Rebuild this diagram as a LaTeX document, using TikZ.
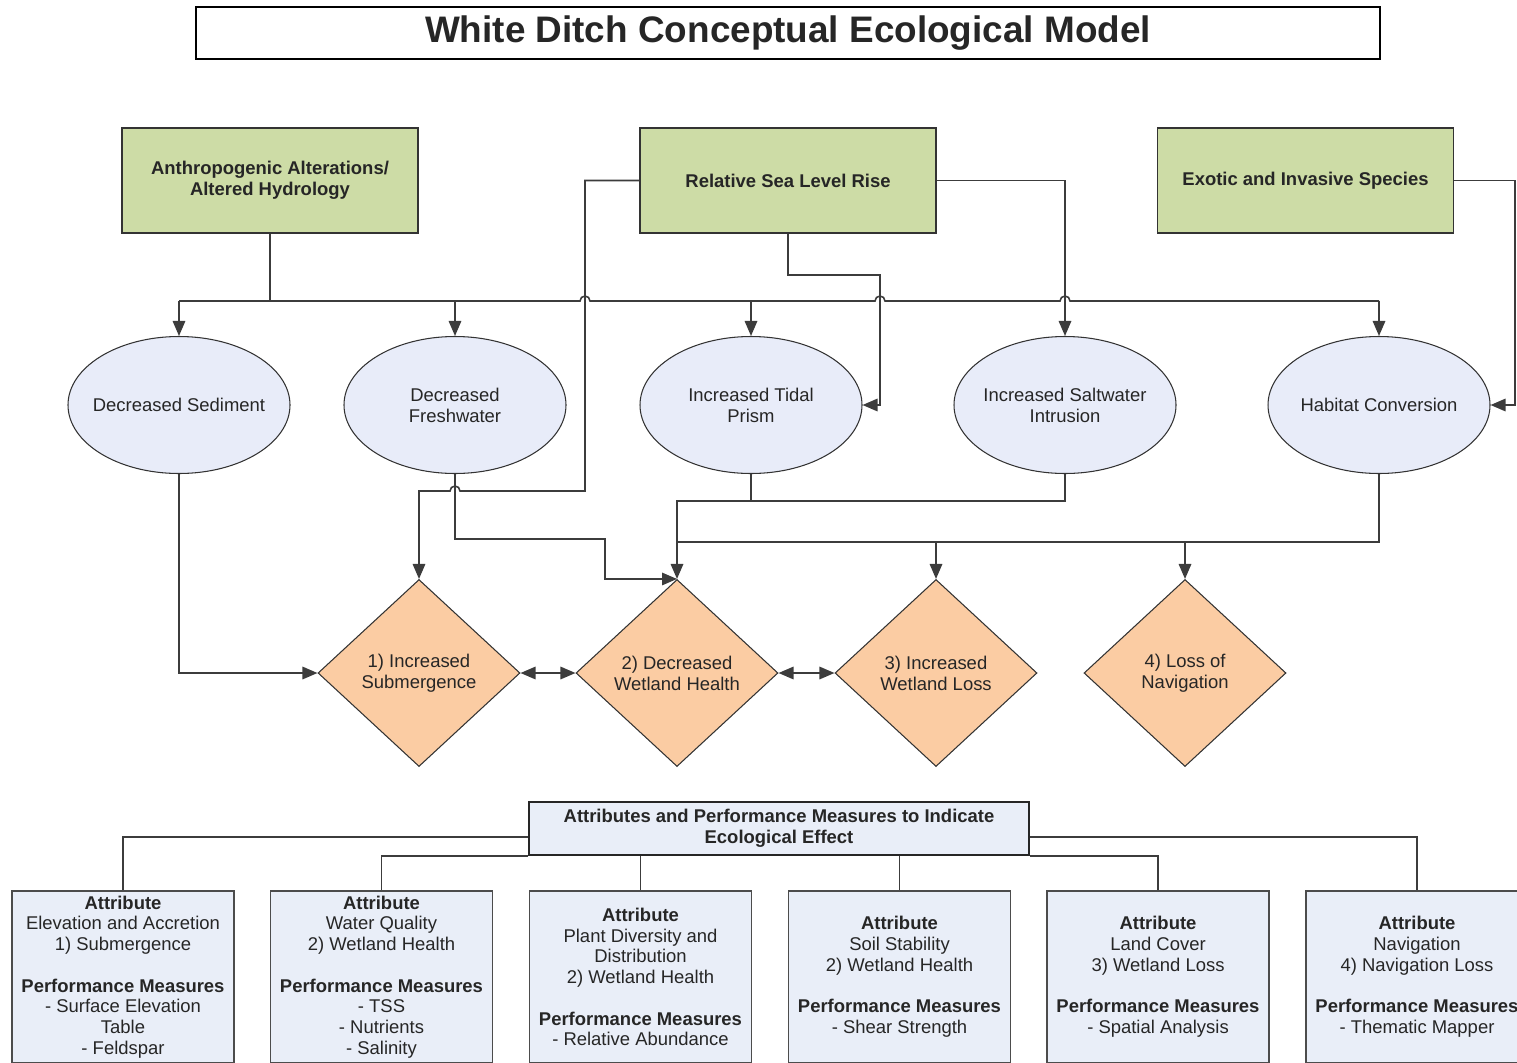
\documentclass[tikz,border=0pt]{standalone}
\usepackage{fontspec}
\setmainfont{Liberation Sans}
\usetikzlibrary{shapes.geometric,arrows.meta,positioning,calc}
\definecolor{stresscolor}{RGB}{205,220,166}
\definecolor{effectcolor}{RGB}{232,236,249}
\definecolor{impactcolor}{RGB}{251,204,163}
\definecolor{attrcolor}{RGB}{233,238,248}
\definecolor{linecolor}{RGB}{60,60,60}

\begin{document}
\begin{tikzpicture}[
    every node/.style={text=black!85},
    stressor/.style={rectangle, draw=black!80, line width=0.7pt, fill=stresscolor, minimum width=5.92cm, minimum height=2.1cm, align=center, font=\fontsize{10.5}{12}\selectfont\bfseries},
    effect/.style={ellipse, draw=black!80, line width=0.6pt, fill=effectcolor, minimum width=4.44cm, minimum height=2.74cm, inner ysep=0pt, inner xsep=-0.2cm, align=center, font=\fontsize{10.5}{12}\selectfont},
    impact/.style={diamond, draw=black!80, line width=0.6pt, fill=impactcolor, shape aspect=1.08, minimum width=4.04cm, minimum height=3.74cm, inner sep=0pt, align=center, font=\fontsize{10.5}{12}\selectfont},
    attr/.style={rectangle, draw=black!70, line width=0.8pt, fill=attrcolor, minimum width=4.44cm, minimum height=3.44cm, inner sep=0pt, align=center, font=\fontsize{10.5}{11.8}\selectfont},
    line/.style={draw=linecolor, line width=0.9pt},
    arrow/.style={line, -{Triangle[length=0.3cm,width=0.25cm]}},
    biarrow/.style={line, {Triangle[length=0.3cm,width=0.25cm]}-{Triangle[length=0.3cm,width=0.25cm]}}
]
\useasboundingbox (0,0) rectangle (30.34,-21.24);
\clip (0,0) rectangle (30.34,-21.24);

% title
\node[draw=black, line width=0.8pt, minimum width=23.68cm, minimum height=1.04cm, font=\fontsize{21}{24}\selectfont\bfseries] (title) at (15.76,-0.66) {White Ditch Conceptual Ecological Model};

% stressors
\node[stressor] (anthro) at (5.40,-3.61) {Anthropogenic Alterations/\\Altered Hydrology};
\node[stressor] (slr) at (15.76,-3.61) {Relative Sea Level Rise};
\node[stressor] (exotic) at (26.11,-3.61) {Exotic and Invasive Species};

% ecological effects
\node[effect] (dsed) at (3.58,-8.10) {Decreased Sediment};
\node[effect] (dfw) at (9.10,-8.10) {Decreased\\Freshwater};
\node[effect] (tidal) at (15.02,-8.10) {Increased Tidal\\Prism};
\node[effect] (salt) at (21.30,-8.10) {Increased Saltwater\\Intrusion};
\node[effect] (habit) at (27.58,-8.10) {Habitat Conversion};

% impacts
\node[impact] (subm) at (8.38,-13.46) {1) Increased\\Submergence};
\node[impact] (health) at (13.54,-13.46) {2) Decreased\\Wetland Health};
\node[impact] (loss) at (18.72,-13.46) {3) Increased\\Wetland Loss};
\node[impact] (navi) at (23.70,-13.46) {4) Loss of\\Navigation};

% attributes
\node[attr, minimum width=10cm, minimum height=1.06cm, draw=black!85, line width=1pt, font=\fontsize{10.5}{12}\selectfont\bfseries] (header) at (15.58,-16.57) {Attributes and Performance Measures to Indicate\\Ecological Effect};
\node[attr] (elev) at (2.46,-19.54) {\textbf{Attribute}\\Elevation and Accretion\\1) Submergence\\[11.8pt]\textbf{Performance Measures}\\- Surface Elevation\\Table\\- Feldspar};
\node[attr] (water) at (7.63,-19.54) {\textbf{Attribute}\\Water Quality\\2) Wetland Health\\[11.8pt]\textbf{Performance Measures}\\- TSS\\- Nutrients\\- Salinity};
\node[attr] (plant) at (12.81,-19.54) {\textbf{Attribute}\\Plant Diversity and\\Distribution\\2) Wetland Health\\[11.8pt]\textbf{Performance Measures}\\- Relative Abundance};
\node[attr] (soil) at (17.99,-19.54) {\textbf{Attribute}\\Soil Stability\\2) Wetland Health\\[11.8pt]\textbf{Performance Measures}\\- Shear Strength};
\node[attr] (land) at (23.16,-19.54) {\textbf{Attribute}\\Land Cover\\3) Wetland Loss\\[11.8pt]\textbf{Performance Measures}\\- Spatial Analysis};
\node[attr] (navattr) at (28.34,-19.54) {\textbf{Attribute}\\Navigation\\4) Navigation Loss\\[11.8pt]\textbf{Performance Measures}\\- Thematic Mapper};

% routing levels
\coordinate (bus) at (5.40,-6.02);
\coordinate (slrlow) at (17.60,-5.50);
\coordinate (leftdrop) at (11.70,-9.82);
\coordinate (fwturn) at (12.10,-10.78);
\coordinate (lvlB) at (0,-10.02);
\coordinate (lvlC) at (0,-10.84);
\coordinate (rightedge) at (30.30,-8.10);

% stressors to effects
\draw[line] (anthro.south) -- (bus);
\draw[line] (dsed |- bus) -- (11.60,-6.02) arc[start angle=180, end angle=0, radius=0.1]
    -- (17.50,-6.02) arc[start angle=180, end angle=0, radius=0.1]
    -- (21.20,-6.02) arc[start angle=180, end angle=0, radius=0.1]
    -- (habit |- bus);
\foreach \n in {dsed,dfw,tidal,habit}
    \draw[arrow] (\n |- bus) -- (\n);
\draw[arrow] (slr.south) |- (slrlow) |- (tidal.east);
\draw[arrow] (slr.east) -| (salt.north);
\draw[arrow] (exotic.east) -| (rightedge) -- (habit.east);

% effects to impacts
\draw[arrow] (slr.west) -| (leftdrop) -- (9.20,-9.82) arc[start angle=0, end angle=180, radius=0.1] -- (subm |- leftdrop) -- (subm.north);
\draw[arrow] (dsed.south) |- (subm.west);
\draw[arrow] (dfw.south) |- (fwturn) |- (health.north);
\draw[arrow] (tidal.south) |- (health |- lvlB) -- (health.north);
\draw[line] (salt.south) |- (tidal |- lvlB);
\draw[line] (habit.south) |- (health |- lvlC);
\draw[arrow] (loss |- lvlC) -- (loss.north);
\draw[arrow] (navi |- lvlC) -- (navi.north);
\draw[biarrow] (subm.east) -- (health.west);
\draw[biarrow] (health.east) -- (loss.west);

% header to attributes
\draw[line] ([yshift=-0.17cm]header.west) -| (elev.north);
\draw[line] (header.south west) -| (water.north);
\draw[line] (header.south -| plant.north) -- (plant.north);
\draw[line] (header.south -| soil.north) -- (soil.north);
\draw[line] (header.south east) -| (land.north);
\draw[line] ([yshift=-0.17cm]header.east) -| (navattr.north);

\end{tikzpicture}
\end{document}
